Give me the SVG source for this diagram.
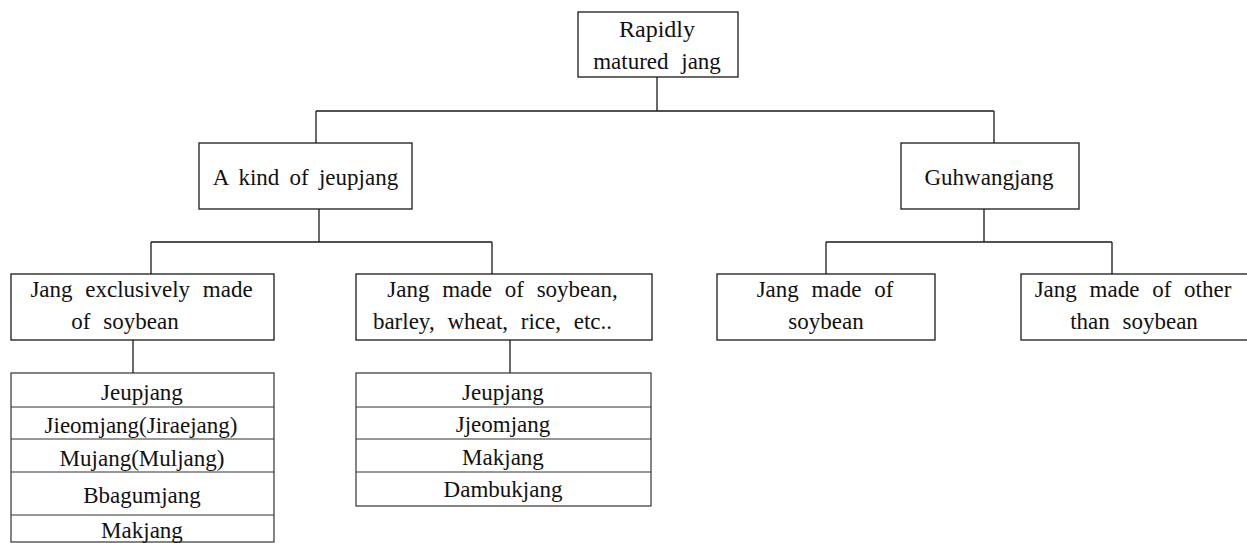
<svg xmlns="http://www.w3.org/2000/svg" width="1247" height="543" viewBox="0 0 1247 543">
<style>
.box{fill:#fff;stroke:#1a1a1a;stroke-width:1.3}
.row{fill:none;stroke:#333;stroke-width:1.2}
.ln{fill:none;stroke:#1a1a1a;stroke-width:1.3}
text{font-family:"Liberation Serif","Times New Roman",serif;font-size:23px;fill:#111;text-anchor:middle}
.ws{word-spacing:7px}
.ws2{word-spacing:4.5px}
</style>
<rect width="1247" height="543" fill="#fff"/>
<g id="connectors">
<path class="ln" d="M657 77V111M316 111H994M316 111V143M994 111V143"/>
<path class="ln" d="M319 209V242M151 242H492M151 242V274M492 242V274"/>
<path class="ln" d="M984 209V242M826 242H1112M826 242V274M1112 242V274"/>
<path class="ln" d="M133 340V373M510 340V373"/>
</g>
<g id="n-root">
<rect class="box" x="578" y="12" width="160" height="65"/>
<text x="657" y="37" style="font-size:24px">Rapidly</text>
<text x="657" y="69" class="ws">matured jang</text>
</g>
<g id="n-jeupjang">
<rect class="box" x="199" y="143" width="213" height="66"/>
<text x="305.5" y="185" class="ws2">A kind of jeupjang</text>
</g>
<g id="n-guhwangjang">
<rect class="box" x="901" y="143" width="178" height="66"/>
<text x="989" y="185">Guhwangjang</text>
</g>
<g id="n-exclusive">
<rect class="box" x="11" y="274" width="263" height="66"/>
<text x="141.5" y="297" class="ws">Jang exclusively made</text>
<text x="125" y="329" class="ws">of soybean</text>
</g>
<g id="n-mixed">
<rect class="box" x="356" y="274" width="296" height="66"/>
<text x="502.5" y="297" class="ws">Jang made of soybean,</text>
<text x="492.5" y="329" class="ws">barley, wheat, rice, etc..</text>
</g>
<g id="n-soybean">
<rect class="box" x="717" y="274" width="218" height="66"/>
<text x="825" y="297" class="ws">Jang made of</text>
<text x="826" y="329">soybean</text>
</g>
<g id="n-other">
<rect class="box" x="1021" y="274" width="240" height="66"/>
<text x="1133" y="297" class="ws">Jang made of other</text>
<text x="1134" y="329" class="ws">than soybean</text>
</g>
<g id="n-list1">
<rect class="row" x="11" y="373" width="263" height="169"/>
<path class="row" d="M11 407H274M11 439H274M11 472H274M11 515H274"/>
<text x="142" y="400">Jeupjang</text>
<text x="141" y="433">Jieomjang(Jiraejang)</text>
<text x="142" y="466">Mujang(Muljang)</text>
<text x="142" y="503">Bbagumjang</text>
<text x="142" y="538">Makjang</text>
</g>
<g id="n-list2">
<rect class="row" x="356" y="373" width="295" height="133"/>
<path class="row" d="M356 407H651M356 439H651M356 472H651"/>
<text x="503" y="400">Jeupjang</text>
<text x="503" y="432">Jjeomjang</text>
<text x="503" y="465">Makjang</text>
<text x="503" y="497">Dambukjang</text>
</g>
</svg>
